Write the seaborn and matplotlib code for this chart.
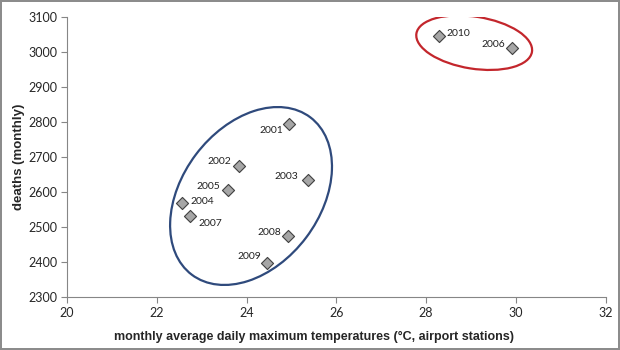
import matplotlib
matplotlib.use("Agg")
import matplotlib.pyplot as plt
from matplotlib.patches import Ellipse
from matplotlib.transforms import ScaledTranslation
import seaborn as sns
import pandas as pd

# data
years = ["2001", "2002", "2003", "2004", "2005", "2006", "2007", "2008", "2009", "2010"]
temps = [24.95, 23.84, 25.36, 22.56, 23.59, 29.91, 22.75, 24.93, 24.45, 28.29]
deaths = [2796, 2675, 2634, 2569, 2607, 3013, 2531, 2474, 2399, 3046]

x_ticks = [20, 22, 24, 26, 28, 30, 32]
y_ticks = [2300, 2400, 2500, 2600, 2700, 2800, 2900, 3000, 3100]

# label offsets (points) and alignment per year
label_pos = {
    "2001": ((-4, -5), "right"),
    "2002": ((-6, 3), "right"),
    "2003": ((-7, 3), "right"),
    "2004": ((6, 1), "left"),
    "2005": ((-6, 2), "right"),
    "2006": ((-5, 2), "right"),
    "2007": ((6, -5), "left"),
    "2008": ((-5, 3), "right"),
    "2009": ((-4, 4), "right"),
    "2010": ((5, 2), "left"),
}

df = pd.DataFrame({"year": years, "temp": temps, "deaths": deaths})

sns.set_style("white")
plt.rcParams["font.family"] = ["Lato", "DejaVu Sans"]

fig = plt.figure(figsize=(6.2, 3.5), dpi=100, edgecolor="#8c8c8c", linewidth=1.5)
ax = fig.add_axes([0.108, 0.151, 0.869, 0.80])

sns.scatterplot(data=df, x="temp", y="deaths", marker="D", s=38,
                color="#a6a6a6", edgecolor="#404040", linewidth=0.8, ax=ax, zorder=3)

for yr, t, d in zip(years, temps, deaths):
    off, ha = label_pos[yr]
    ax.annotate(yr, (t, d), textcoords="offset points", xytext=off,
                ha=ha, va="center", fontsize=7.5, color="#222222")

# ellipses highlighting the two clusters (sized in inches around a data centre)
def ring(cx, cy, w, h, angle, color):
    tr = fig.dpi_scale_trans + ScaledTranslation(cx, cy, ax.transData)
    ax.add_patch(Ellipse((0, 0), w, h, angle=angle, transform=tr,
                         fill=False, edgecolor=color, linewidth=1.6, zorder=2))

ring(24.10, 2589, 1.97, 1.38, 53, "#2f4a7c")
ring(29.07, 3027, 1.17, 0.52, -9, "#c3262c")

ax.set_xlim(20, 32)
ax.set_ylim(2300, 3100)
ax.set_xticks(x_ticks)
ax.set_yticks(y_ticks)
ax.tick_params(axis="both", labelsize=9, length=4, width=0.8, color="#868686",
               direction="out", left=True, bottom=True, pad=3)
for s in ["top", "right"]:
    ax.spines[s].set_visible(False)
for s in ["left", "bottom"]:
    ax.spines[s].set_color("#868686")
    ax.spines[s].set_linewidth(0.8)

lab_font = ["Liberation Sans", "DejaVu Sans"]
ax.set_xlabel("monthly average daily maximum temperatures (°C, airport stations)",
              fontsize=9, fontweight="bold", family=lab_font)
ax.set_ylabel("deaths (monthly)", fontsize=9.5, fontweight="bold", family=lab_font)
ax.xaxis.set_label_coords(0.459, -0.12)
ax.yaxis.set_label_coords(-0.078, 0.5)

fig.savefig("out.png", dpi=100, edgecolor=fig.get_edgecolor())
